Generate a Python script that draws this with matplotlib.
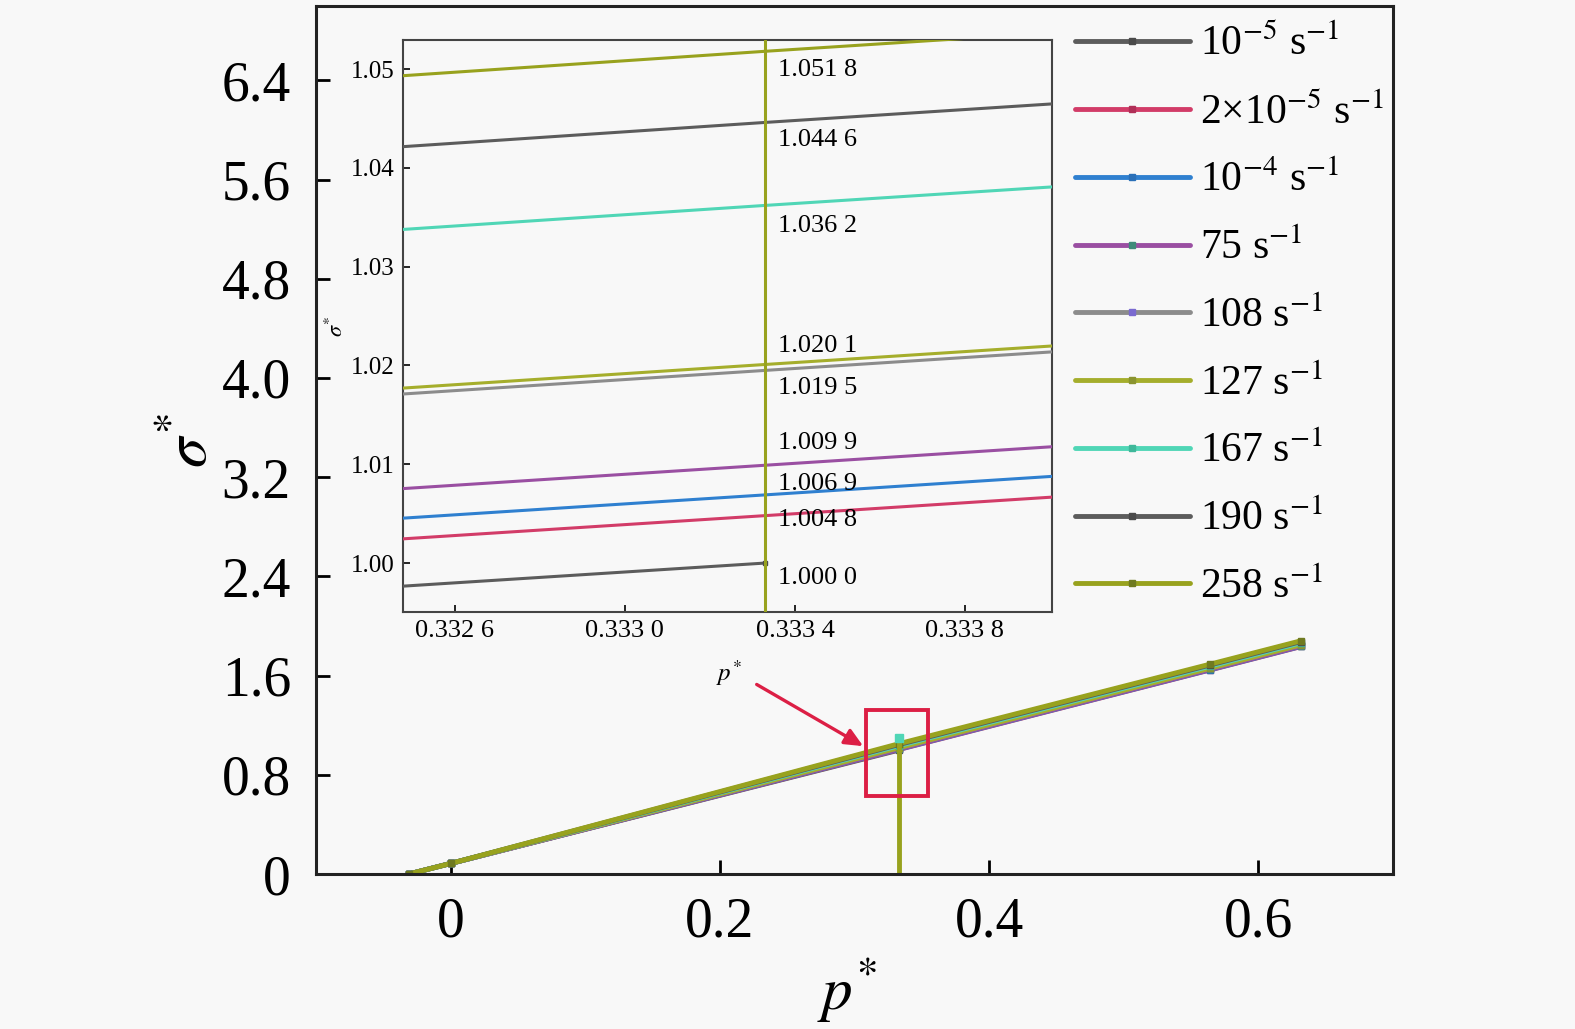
import matplotlib
matplotlib.use("Agg")
import matplotlib.pyplot as plt
from matplotlib.patches import Rectangle

plt.rcParams['font.family'] = ['Liberation Serif', 'DejaVu Serif']
plt.rcParams['mathtext.fontset'] = 'stix'

# ---------------- data ----------------
labels = [r"10$^{-5}$ s$^{-1}$", r"2×10$^{-5}$ s$^{-1}$", r"10$^{-4}$ s$^{-1}$",
          r"75 s$^{-1}$", r"108 s$^{-1}$", r"127 s$^{-1}$", r"167 s$^{-1}$",
          r"190 s$^{-1}$", r"258 s$^{-1}$"]
colors = ['#5c5c5c', '#d23c68', '#2f80d0', '#9a4fa2', '#8c8c8c',
          '#a5ae2c', '#50d6b6', '#5c5c5c', '#98a21e']
marker_colors = ['#4a4a4a', '#b03058', '#2a70b8', '#3f8a7a', '#7a6ad0',
                 '#8a9430', '#3fb89a', '#4a4a4a', '#6f7a20']

p_main = [-0.031, 0.0, 0.33333, 0.564, 0.632]
sig_1e5 = [0.0, 0.085, 1.0000]
sig_2e5 = [0.0, 0.085, 1.0048, 1.645, 1.835]
sig_1e4 = [0.0, 0.085, 1.0069, 1.647, 1.837]
sig_75 = [0.0, 0.085, 1.0099, 1.650, 1.840]
sig_108 = [0.0, 0.085, 1.0195, 1.660, 1.850]
sig_127 = [0.0, 0.085, 1.0201, 1.660, 1.850]
sig_167 = [0.0, 0.085, 1.0362, 1.676, 1.866]
sig_190 = [0.0, 0.085, 1.0446, 1.685, 1.875]
sig_258 = [0.0, 0.085, 1.0518, 1.692, 1.882]
series = [sig_1e5, sig_2e5, sig_1e4, sig_75, sig_108, sig_127, sig_167, sig_190, sig_258]

# values at p* = 1/3 (annotated in inset)
p_third = 0.33333
sig_third = [1.0000, 1.0048, 1.0069, 1.0099, 1.0195, 1.0201, 1.0362, 1.0446, 1.0518]
sig_third_txt = ["1.000 0", "1.004 8", "1.006 9", "1.009 9", "1.019 5",
                 "1.020 1", "1.036 2", "1.044 6", "1.051 8"]

# vertical line at p* = 1/3
vline_p = [0.33333, 0.33333]
vline_sig = [0.0, 1.10]

main_xticks = [0, 0.2, 0.4, 0.6]
main_xticklabels = ["0", "0.2", "0.4", "0.6"]
main_yticks = [0, 0.8, 1.6, 2.4, 3.2, 4.0, 4.8, 5.6, 6.4]
main_yticklabels = ["0", "0.8", "1.6", "2.4", "3.2", "4.0", "4.8", "5.6", "6.4"]
ins_xticks = [0.3326, 0.3330, 0.3334, 0.3338]
ins_xticklabels = ["0.332 6", "0.333 0", "0.333 4", "0.333 8"]
ins_yticks = [1.00, 1.01, 1.02, 1.03, 1.04, 1.05]
ins_yticklabels = ["1.00", "1.01", "1.02", "1.03", "1.04", "1.05"]

# label offsets (pixels) for inset annotations
label_dy = [-15, -4, 11, 22, -18, 18, -21, -18, -19]

# ---------------- figure ----------------
bg = '#f8f8f8'
fig = plt.figure(figsize=(15.75, 10.29), dpi=100, facecolor=bg)
ax = fig.add_axes([0.2006, 0.1506, 0.6838, 0.8436], facecolor=bg)

for s, c, mc, lab in zip(series, colors, marker_colors, labels):
    ax.plot(p_main[:len(s)], s, color=c, lw=3.5, marker='s', ms=5,
            mfc=mc, mec=mc, label=lab, solid_capstyle='round')
ax.plot(vline_p, vline_sig, color=colors[-1], lw=3.5)
ax.plot([vline_p[1]], [vline_sig[1]], marker='s', ms=6, color=colors[6])

ax.set_xlim(-0.1, 0.7)
ax.set_ylim(0, 7.0)
ax.set_xticks(main_xticks)
ax.set_xticklabels(main_xticklabels)
ax.set_yticks(main_yticks)
ax.set_yticklabels(main_yticklabels)
ax.tick_params(direction='in', length=10, width=2, labelsize=40)
ax.tick_params(axis='x', pad=16)
ax.tick_params(axis='y', pad=18)
for sp in ax.spines.values():
    sp.set_linewidth(2.2)
    sp.set_color('#222222')

fig.text(0.538, 0.037, r"$p^{*}$", fontsize=44, ha='center', va='center')
fig.text(0.122, 0.572, r"$\sigma^{*}$", fontsize=44, ha='center', va='center', rotation=90)

# red box & arrow
ax.add_patch(Rectangle((0.3089, 0.628), 0.0459, 0.692, fill=False,
                       edgecolor='#dc1f45', lw=2.8, zorder=5))
ax.annotate("", xy=(0.3083, 1.02), xytext=(0.2256, 1.54),
            arrowprops=dict(arrowstyle='-|>,head_length=1.1,head_width=0.5',
                            color='#dc1f45', lw=2.4), zorder=6)
fig.text(0.463, 0.346, r"$p^{*}$", fontsize=18, ha='center', va='center')

# legend
leg = ax.legend(loc='upper left', bbox_to_anchor=(0.6825, 0.976),
                bbox_transform=fig.transFigure, frameon=False, fontsize=30,
                handlelength=2.75, handletextpad=0.25, labelspacing=0.695,
                borderpad=0, borderaxespad=0)

# ---------------- inset ----------------
ins = fig.add_axes([0.2559, 0.4052, 0.4121, 0.5559], facecolor=bg)
for i, (s, c) in enumerate(zip(series, colors)):
    ins.plot(p_main[:len(s)], s, color=c, lw=2.2, zorder=3)
ins.plot([p_main[2]], [sig_1e5[2]], marker='s', ms=3, color=marker_colors[0], zorder=4)
ins.plot(vline_p, vline_sig, color=colors[-1], lw=2.2, zorder=4)
for v, t, dy in zip(sig_third, sig_third_txt, label_dy):
    ins.annotate(t, xy=(p_third, v), xytext=(9, dy * 0.72), textcoords='offset points',
                 fontsize=19, ha='left', va='center')
ins.set_xlim(0.332478, 0.334005)
ins.set_ylim(0.99504, 1.05294)
ins.set_xticks(ins_xticks)
ins.set_xticklabels(ins_xticklabels)
ins.set_yticks(ins_yticks)
ins.set_yticklabels(ins_yticklabels)
ins.tick_params(direction='in', length=5, width=1.2, labelsize=18, pad=6)
ins.tick_params(axis='x', labelsize=19)
for sp in ins.spines.values():
    sp.set_linewidth(1.5)
    sp.set_color('#444444')
ins.set_ylabel(r"$\sigma^{*}$", fontsize=16, labelpad=2)

fig.savefig("out.png", dpi=100, facecolor=bg)
